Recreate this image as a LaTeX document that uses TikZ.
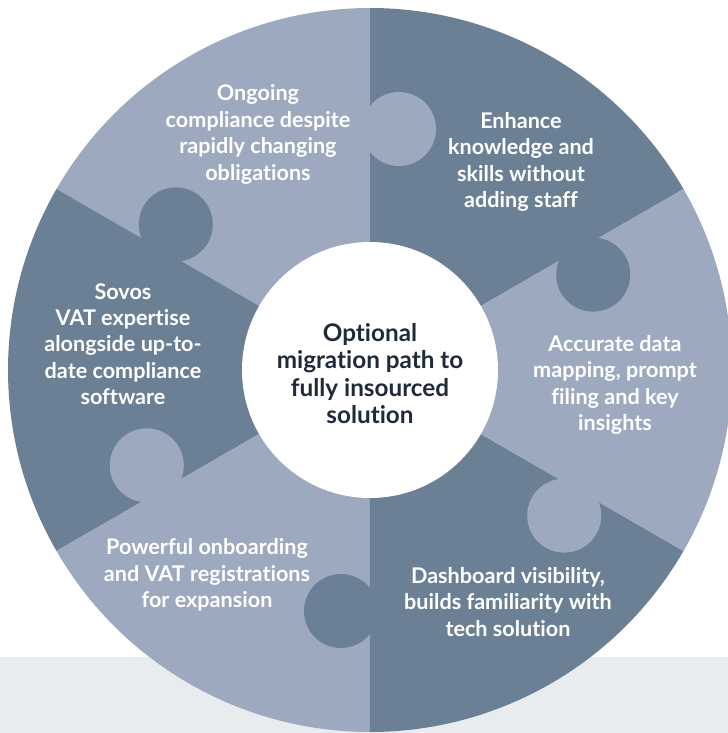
\documentclass[tikz,border=0pt]{standalone}
\usepackage{fontspec}
\setmainfont{Lato}[Ligatures=NoCommon]
\usetikzlibrary{calc}
\definecolor{lightpiece}{HTML}{9DA9BF}
\definecolor{darkpiece}{HTML}{6B8095}
\definecolor{bandgray}{HTML}{E9ECEF}
\definecolor{centertext}{HTML}{1F2B3A}
\tikzset{
  piecetext/.style={text=white, align=center, font=\fontsize{16.2}{19.8}\selectfont\bfseries, inner sep=0pt},
  hubtext/.style={text=centertext, align=center, font=\fontsize{18.2}{20.6}\selectfont\bfseries, inner sep=0pt},
}
\begin{document}
\begin{tikzpicture}[x=0.75pt,y=0.75pt]
\useasboundingbox (-370,-363) rectangle (358,370);
\clip (-370,-363) rectangle (358,370);
\fill[white] (-370,-363) rectangle (358,370);
% bottom band
\fill[bandgray] (-370,-363) rectangle (358,-287);
% sectors
\fill[darkpiece]  (0,0) -- (30:362)  arc[start angle=30,  end angle=90,  radius=362] -- cycle;
\fill[lightpiece] (0,0) -- (90:362)  arc[start angle=90,  end angle=150, radius=362] -- cycle;
\fill[darkpiece]  (0,0) -- (150:362) arc[start angle=150, end angle=210, radius=362] -- cycle;
\fill[lightpiece] (0,0) -- (210:362) arc[start angle=210, end angle=270, radius=362] -- cycle;
\fill[darkpiece]  (0,0) -- (270:362) arc[start angle=270, end angle=330, radius=362] -- cycle;
\fill[lightpiece] (0,0) -- (330:362) arc[start angle=330, end angle=390, radius=362] -- cycle;
% puzzle tabs
\fill[lightpiece] ($(90:241)+(0:29)$) circle[radius=37];
\fill[darkpiece]  ($(30:241)+(-60:29)$) circle[radius=37];
\fill[lightpiece] ($(-30:241)+(-120:29)$) circle[radius=37];
\fill[darkpiece]  ($(-90:241)+(180:29)$) circle[radius=37];
\fill[lightpiece] ($(210:241)+(120:29)$) circle[radius=37];
\fill[darkpiece]  ($(150:241)+(60:29)$) circle[radius=37];
% hub
\fill[white] (0,0) circle[radius=128];
\node[hubtext] (hub) at (0,-3.5) {Optional\\migration path to\\fully insourced\\solution};
% labels
\node[piecetext] (ongoing) at (-112,235.5) {Ongoing\\compliance despite\\rapidly changing\\obligations};
\node[piecetext] (enhance) at (151,208) {Enhance\\knowledge and\\skills without\\adding staff};
\node[piecetext] (sovos) at (-247,26) {Sovos\\VAT expertise\\alongside up-to-\\date compliance\\software};
\node[piecetext] (accurate) at (245,-15) {Accurate data\\mapping, prompt\\filing and key\\insights};
\node[piecetext] (powerful) at (-163,-205) {Powerful onboarding\\and VAT registrations\\for expansion};
\node[piecetext] (dashboard) at (138,-232) {Dashboard visibility,\\builds familiarity with\\tech solution};
\end{tikzpicture}
\end{document}
